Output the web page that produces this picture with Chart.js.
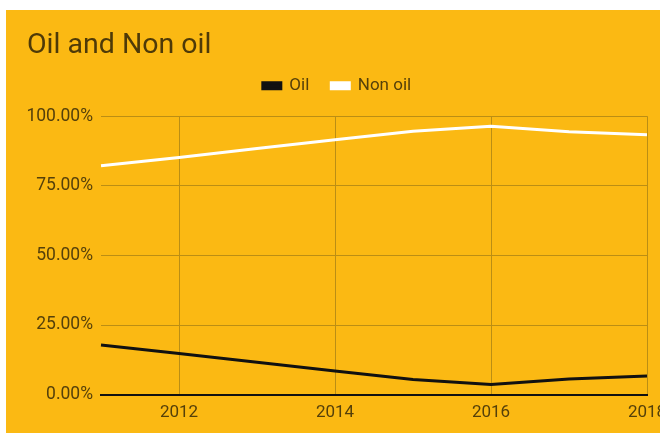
<!DOCTYPE html>
<html>
<head>
<meta charset="utf-8">
<script src="https://cdn.jsdelivr.net/npm/chart.js@4/dist/chart.umd.min.js"></script>
<style>
    html, body {
        margin: 0;
        padding: 0;
        background: #ffffff;
        width: 660px;
        height: 433px;
        overflow: hidden;
    }
    #wrap {
        position: absolute;
        left: 6px;
        top: 10px;
        width: 670px;
        height: 423px;
        background: #fbb913;
    }
</style>
</head>
<body>
<div id="wrap"><canvas id="shareChart"></canvas></div>
<script>
const years = ['2011', '2012', '2013', '2014', '2015', '2016', '2017', '2018'];
const oilShare = [17.8, 14.8, 11.6, 8.5, 5.4, 3.6, 5.6, 6.7];
const nonOilShare = [82.2, 85.2, 88.4, 91.5, 94.6, 96.4, 94.4, 93.3];
const percentTicks = [0, 25, 50, 75, 100];

const textColor = '#55400a';
const gridColor = '#bb8e14';

function initShareChart() {
    const ctx = document.getElementById('shareChart').getContext('2d');

    return new Chart(ctx, {
        type: 'line',
        data: {
            labels: years,
            datasets: [{
                label: 'Oil',
                data: oilShare,
                borderColor: '#111111',
                backgroundColor: '#111111',
                borderWidth: 3,
                pointRadius: 0,
                tension: 0
            }, {
                label: 'Non oil',
                data: nonOilShare,
                borderColor: '#ffffff',
                backgroundColor: '#ffffff',
                borderWidth: 3,
                pointRadius: 0,
                tension: 0
            }]
        },
        options: {
            responsive: true,
            maintainAspectRatio: false,
            animation: false,
            layout: {
                padding: { left: 21, right: 29, top: 8, bottom: 2 }
            },
            plugins: {
                title: {
                    display: true,
                    text: 'Oil and Non oil',
                    align: 'start',
                    color: '#4e3a08',
                    font: { family: 'Roboto', size: 28.5, weight: 'normal' },
                    padding: { top: 11, bottom: -8 }
                },
                legend: {
                    position: 'top',
                    labels: {
                        color: textColor,
                        boxWidth: 18,
                        boxHeight: 6,
                        padding: 22,
                        font: { family: 'Roboto', size: 17 }
                    }
                },
                tooltip: { enabled: false }
            },
            scales: {
                x: {
                    offset: false,
                    grid: {
                        drawTicks: false,
                        color: c => (c.index % 2 === 1 ? gridColor : 'rgba(0,0,0,0)')
                    },
                    border: { display: true, color: '#111111', width: 2 },
                    ticks: {
                        color: textColor,
                        autoSkip: false,
                        maxRotation: 0,
                        padding: 8,
                        font: { family: 'Roboto', size: 17 },
                        callback: (v, i) => (i % 2 === 1 ? years[i] : '')
                    }
                },
                // empty top axis, only keeps a gap between legend and plot
                xGap: {
                    type: 'category',
                    position: 'top',
                    grid: { display: false },
                    border: { display: false },
                    ticks: { display: false },
                    afterFit: axis => {
                        axis.height = 12;
                    }
                },
                y: {
                    min: 0,
                    max: 100,
                    afterBuildTicks: axis => {
                        axis.ticks = percentTicks.map(v => ({ value: v }));
                    },
                    afterFit: axis => {
                        axis.width = 74;
                    },
                    grid: {
                        drawTicks: false,
                        color: c => (c.tick && c.tick.value === 0 ? 'rgba(0,0,0,0)' : gridColor)
                    },
                    border: { display: false },
                    ticks: {
                        color: textColor,
                        padding: 8,
                        font: { family: 'Roboto', size: 17.5 },
                        callback: v => v.toFixed(2) + '%'
                    }
                }
            }
        }
    });
}

window.addEventListener('load', () => {
    initShareChart();
});
</script>
</body>
</html>
